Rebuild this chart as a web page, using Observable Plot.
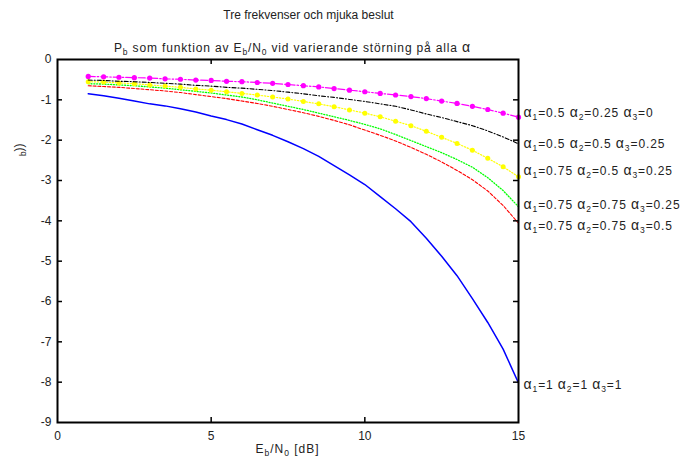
<!DOCTYPE html>
<html><head><meta charset="utf-8">
<script src="https://cdn.jsdelivr.net/npm/d3@7"></script>
<script src="https://cdn.jsdelivr.net/npm/@observablehq/plot@0.6"></script>
<style>body{margin:0;background:#fff} svg{font-family:"Liberation Sans",Arial,sans-serif}</style>
</head><body><div id="chart"></div>
<script>
// Eb/N0 grid [dB]
const ebn0 = [1,1.5,2,2.5,3,3.5,4,4.5,5,5.5,6,6.5,7,7.5,8,8.5,9,9.5,10,10.5,11,11.5,12,12.5,13,13.5,14,14.5,15];
// log10(Pb) per interference setting
const pMagenta = [-0.42,-0.43,-0.44,-0.45,-0.46,-0.48,-0.49,-0.51,-0.52,-0.54,-0.55,-0.57,-0.59,-0.62,-0.65,-0.68,-0.72,-0.76,-0.80,-0.84,-0.88,-0.92,-0.97,-1.03,-1.09,-1.16,-1.24,-1.33,-1.43];
const pBlack   = [-0.51,-0.52,-0.54,-0.55,-0.57,-0.59,-0.61,-0.64,-0.66,-0.69,-0.71,-0.74,-0.77,-0.81,-0.85,-0.90,-0.94,-0.99,-1.04,-1.10,-1.16,-1.25,-1.35,-1.44,-1.54,-1.64,-1.77,-1.92,-2.09];
const pYellow  = [-0.55,-0.56,-0.58,-0.60,-0.63,-0.66,-0.69,-0.73,-0.76,-0.80,-0.84,-0.88,-0.93,-0.98,-1.04,-1.10,-1.17,-1.25,-1.33,-1.42,-1.53,-1.64,-1.78,-1.93,-2.08,-2.25,-2.45,-2.66,-2.91];
const pGreen   = [-0.60,-0.61,-0.63,-0.65,-0.68,-0.71,-0.75,-0.79,-0.83,-0.88,-0.93,-1.00,-1.08,-1.16,-1.24,-1.33,-1.42,-1.51,-1.61,-1.72,-1.86,-2.01,-2.16,-2.31,-2.48,-2.67,-2.93,-3.25,-3.65];
const pRed     = [-0.65,-0.67,-0.69,-0.72,-0.75,-0.78,-0.82,-0.87,-0.92,-0.97,-1.03,-1.09,-1.16,-1.24,-1.32,-1.41,-1.51,-1.62,-1.75,-1.88,-2.02,-2.18,-2.35,-2.54,-2.75,-2.98,-3.26,-3.62,-4.06];
const pBlue    = [-0.85,-0.90,-0.96,-1.03,-1.10,-1.15,-1.22,-1.30,-1.40,-1.49,-1.60,-1.74,-1.88,-2.04,-2.21,-2.40,-2.63,-2.86,-3.10,-3.40,-3.70,-4.02,-4.43,-4.88,-5.36,-5.93,-6.52,-7.18,-8.02];
const seriesLabels = [
  "α1=0.5 α2=0.25 α3=0",
  "α1=0.5 α2=0.5 α3=0.25",
  "α1=0.75 α2=0.5 α3=0.25",
  "α1=0.75 α2=0.75 α3=0.25",
  "α1=0.75 α2=0.75 α3=0.5",
  "α1=1 α2=1 α3=1"
];
const xTicks = [0,5,10,15];
const xInnerTicks = [5,10];
const yTicks = [0,-1,-2,-3,-4,-5,-6,-7,-8,-9];
const yInnerTicks = [-1,-2,-3,-4,-5,-6,-7,-8];

const seriesValues = [pMagenta,pBlack,pYellow,pGreen,pRed,pBlue];
const styles = [
  {color:"#ff00ff", dash:"7,2,1.5,2", width:1.2, dots:true,  r:2.6, dy:-4},
  {color:"#000000", dash:"4,2,1,2",   width:1.1, dots:false, dy:0},
  {color:"#ffff00", dash:"1.2,1.8",   width:1.2, dots:true,  r:2.5, dy:-6},
  {color:"#00ff00", dash:"1,1.8",     width:1.3, dots:false, dy:-2},
  {color:"#ff0000", dash:"3,1.8",     width:1.1, dots:false, dy:3},
  {color:"#0000ff", dash:null,        width:1.5, dots:false, dy:2}
];

const W = 691, H = 460, mL = 57, mR = 173, mT = 59, mB = 38;
const innerW = W - mL - mR, innerH = H - mT - mB, tickLen = 5;

const rows = seriesValues.map(vals => ebn0.map((x,i) => ({x, y: vals[i]})));
const marks = [];
for (let k = rows.length - 1; k >= 0; k--) {
  const st = styles[k];
  marks.push(Plot.line(rows[k], {x:"x", y:"y", stroke: st.color, strokeWidth: st.width, strokeDasharray: st.dash || undefined}));
  if (st.dots) marks.push(Plot.dot(rows[k], {x:"x", y:"y", r: st.r, fill: st.color, stroke: "none"}));
}
seriesLabels.forEach((lab, k) => {
  const last = rows[k][rows[k].length - 1];
  marks.push(Plot.text([last], {x:"x", y:"y", text: () => lab, textAnchor:"start", dx:5, dy: styles[k].dy, fontSize:12, fill:"#222"}));
});

const fmt = d => String(d);
const chart = Plot.plot({
  width: W, height: H,
  marginLeft: mL, marginRight: mR, marginTop: mT, marginBottom: mB,
  style: {fontFamily: '"Liberation Sans", Arial, sans-serif', fontSize: "12px", background: "white"},
  x: {domain: [0, 15]},
  y: {domain: [-9, 0]},
  marks: [
    ...marks,
    Plot.axisX({anchor:"bottom", ticks: xTicks, tickFormat: fmt, tickSize: 0, tickPadding: 9, label: null, fontSize: 12, fill:"#222"}),
    Plot.axisY({anchor:"left", ticks: yTicks, tickFormat: fmt, tickSize: 0, tickPadding: 6, label: null, fontSize: 12, fill:"#222"}),
    // inward ticks on all four sides
    Plot.tickY(yInnerTicks, {y: d => d, insetRight: innerW - tickLen, stroke:"black", strokeWidth: 1.5}),
    Plot.tickY(yInnerTicks, {y: d => d, insetLeft: innerW - tickLen, stroke:"black", strokeWidth: 1.5}),
    Plot.tickX(xInnerTicks, {x: d => d, insetTop: innerH - tickLen, stroke:"black", strokeWidth: 1.5}),
    Plot.tickX(xInnerTicks, {x: d => d, insetBottom: innerH - tickLen, stroke:"black", strokeWidth: 1.5}),
    Plot.frame({stroke:"black", strokeWidth: 2})
  ]
});
document.getElementById("chart").appendChild(chart);

function fillRich(textSel, parts) {
  textSel.text(null);
  let shift = 0;
  parts.forEach(([t, kind]) => {
    const target = kind === "s" ? 3 : 0;
    const ts = textSel.append("tspan").text(t).attr("dy", target - shift);
    shift = target;
    if (kind === "s") ts.attr("font-size", 8.5);
    if (kind === "a") ts.attr("font-size", 14);
  });
}
function alphaParts(str) {
  const parts = [];
  str.split(/(α\d)/).forEach(seg => {
    if (!seg) return;
    const m = seg.match(/^α(\d)$/);
    if (m) { parts.push(["α","a"]); parts.push([m[1],"s"]); }
    else parts.push([seg,"n"]);
  });
  return parts;
}
const svg = d3.select(chart);
svg.selectAll("text").each(function() {
  const t = this.textContent;
  if (seriesLabels.includes(t)) {
    d3.select(this).attr("letter-spacing", 0.9);
    fillRich(d3.select(this), alphaParts(t));
  }
});

const sx = chart.scale("x"), sy = chart.scale("y");
const cx = (sx.apply(0) + sx.apply(15)) / 2;
function addText(x, y, parts, extra) {
  const t = svg.append("text").attr("x", x).attr("y", y).attr("text-anchor", "middle")
    .attr("font-size", 12).attr("fill", "#222");
  if (extra) extra(t);
  fillRich(t, parts);
  return t;
}
addText(cx + 21, 19, [["Tre frekvenser och mjuka beslut","n"]]);
addText(cx + 5, 52, [["P","n"],["b","s"],[" som funktion av E","n"],["b","s"],["/N","n"],["0","s"],[" vid varierande störning på alla ","n"],["α","a"]], t => t.attr("letter-spacing", 0.85));
addText(cx, 453, [["E","n"],["b","s"],["/N","n"],["0","s"],[" [dB]","n"]], t => t.attr("letter-spacing", 1));
addText(0, 0, [["b","s"],["))","n"]], t => t.attr("transform", `translate(23,${sy.apply(-2.25)}) rotate(-90)`));
</script></body></html>
